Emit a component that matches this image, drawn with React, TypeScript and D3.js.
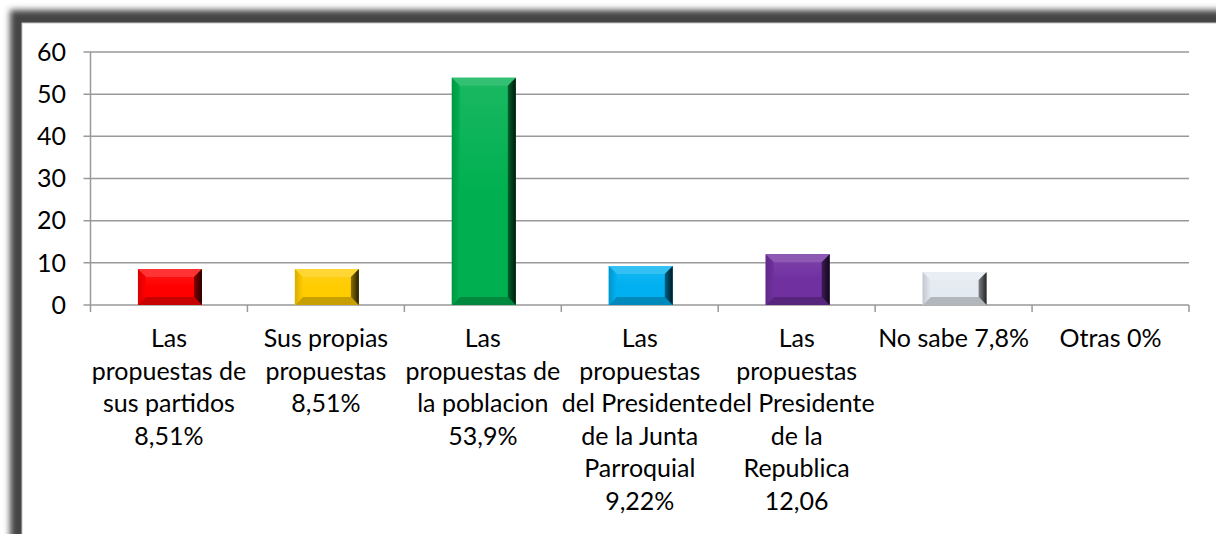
import React from "react";
import * as d3 from "d3";

const categories: string[][] = [
  ["Las", "propuestas de", "sus partidos", "8,51%"],
  ["Sus propias", "propuestas", "8,51%"],
  ["Las", "propuestas de", "la poblacion", "53,9%"],
  ["Las", "propuestas", "del Presidente", "de la Junta", "Parroquial", "9,22%"],
  ["Las", "propuestas", "del Presidente", "de la", "Republica", "12,06"],
  ["No sabe 7,8%"],
  ["Otras 0%"],
];
const values: number[] = [8.51, 8.51, 53.9, 9.22, 12.06, 7.8, 0];
const barColors: string[] = ["#ff0000", "#ffcc00", "#00b050", "#00b0f0", "#7030a0", "#e4eaf1", "#cccccc"];
const yTicks: number[] = [0, 10, 20, 30, 40, 50, 60];

const W = 1216;
const H = 534;
const plot = { left: 90.5, right: 1189, top: 52, bottom: 305 };
const FONT = "Lato, 'Open Sans', sans-serif";
const FS = 25;

export default function App() {
  const ids = categories.map((_, i) => i);
  const x = d3
    .scaleBand<number>()
    .domain(ids)
    .range([plot.left, plot.right])
    .paddingInner(0)
    .paddingOuter(0);
  const y = d3.scaleLinear().domain([0, 60]).range([plot.bottom, plot.top]);
  const step = x.bandwidth();
  const barW = 64;
  const bev = 8;

  const bars = values.map((v, i) => {
    if (v <= 0) return null;
    const base = d3.color(barColors[i])!;
    const x0 = (x(i) as number) + (step - barW) / 2 + 1;
    const x1 = x0 + barW;
    const y0 = y(v);
    const y1 = y(0);
    const b = Math.min(bev, (y1 - y0) / 2.5);
    const hex = base.formatHex();
    const light = d3.interpolateRgb(hex, "#ffffff")(0.2);
    const dark = d3.interpolateRgb(hex, "#000000")(0.22);
    const darker = d3.interpolateRgb(hex, "#000000")(0.45);
    const black = d3.interpolateRgb(hex, "#000000")(0.85);
    const leftC = d3.interpolateRgb(hex, "#000000")(0.15);
    const face = hex;
    const faceTop = d3.interpolateRgb(hex, "#ffffff")(0.1);
    return (
      <g key={i}>
        <defs>
          <linearGradient id={`r${i}`} x1="0" x2="1" y1="0" y2="0">
            <stop offset="0" stopColor={darker} />
            <stop offset="1" stopColor={black} />
          </linearGradient>
          <linearGradient id={`l${i}`} x1="0" x2="1" y1="0" y2="0">
            <stop offset="0" stopColor={leftC} />
            <stop offset="1" stopColor={face} />
          </linearGradient>
          <linearGradient id={`f${i}`} x1="0" x2="0" y1="0" y2="1">
            <stop offset="0" stopColor={faceTop} />
            <stop offset="0.5" stopColor={face} />
            <stop offset="1" stopColor={face} />
          </linearGradient>
        </defs>
        <rect x={x0} y={y0} width={barW} height={y1 - y0} fill={`url(#f${i})`} />
        <polygon
          points={`${x0},${y0} ${x1},${y0} ${x1 - b},${y0 + b} ${x0 + b},${y0 + b}`}
          fill={light}
        />
        <polygon
          points={`${x0},${y1} ${x1},${y1} ${x1 - b},${y1 - b} ${x0 + b},${y1 - b}`}
          fill={dark}
        />
        <polygon
          points={`${x0},${y0} ${x0 + b},${y0 + b} ${x0 + b},${y1 - b} ${x0},${y1}`}
          fill={`url(#l${i})`}
        />
        <polygon
          points={`${x1},${y0} ${x1 - b},${y0 + b} ${x1 - b},${y1 - b} ${x1},${y1}`}
          fill={`url(#r${i})`}
        />
      </g>
    );
  });

  const lineH = 32.5;

  return (
    <svg
      width={W}
      height={H}
      style={{ position: "absolute", left: 0, top: 0, display: "block" }}
      fontFamily={FONT}
    >
      <defs>
        <filter id="blur" x="-5%" y="-5%" width="110%" height="110%">
          <feGaussianBlur stdDeviation="3" />
        </filter>
      </defs>
      <rect x={0} y={0} width={W} height={H} fill="#ffffff" />
      <rect x={10} y={10} width={1400} height={800} fill="#444444" filter="url(#blur)" />
      <rect x={22} y={23} width={1400} height={800} fill="#ffffff" stroke="#c8c8c8" strokeWidth={1} />

      {/* gridlines */}
      {yTicks.map((t) => (
        <g key={t}>
          <line
            x1={plot.left - 7}
            x2={t === 0 ? plot.left : plot.right}
            y1={y(t)}
            y2={y(t)}
            stroke="#999999"
            strokeWidth={1.5}
          />
          <text
            x={66}
            y={y(t)}
            dy="0.35em"
            textAnchor="end"
            fontSize={FS}
            fill="#000"
          >
            {t}
          </text>
        </g>
      ))}
      {/* y axis */}
      <line x1={plot.left} x2={plot.left} y1={plot.top} y2={plot.bottom} stroke="#999999" strokeWidth={1.5} />
      {/* x axis */}
      <line x1={plot.left} x2={plot.right} y1={plot.bottom} y2={plot.bottom} stroke="#999999" strokeWidth={1.5} />
      {d3.range(categories.length + 1).map((k) => {
        const xx = plot.left + k * step;
        return (
          <line key={k} x1={xx} x2={xx} y1={plot.bottom} y2={plot.bottom + 7} stroke="#999999" strokeWidth={1.5} />
        );
      })}

      {bars}

      {/* category labels */}
      {categories.map((lines, i) => (
        <text
          key={i}
          x={(x(i) as number) + step / 2}
          y={347}
          textAnchor="middle"
          fontSize={FS}
          fill="#000"
        >
          {lines.map((ln, j) => (
            <tspan key={j} x={(x(i) as number) + step / 2} y={347 + j * lineH}>
              {ln}
            </tspan>
          ))}
        </text>
      ))}
    </svg>
  );
}
